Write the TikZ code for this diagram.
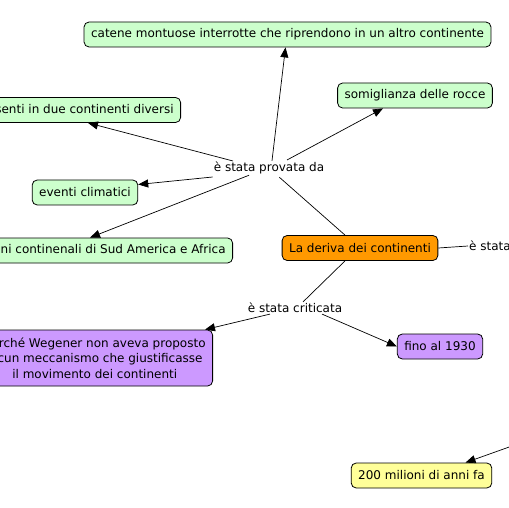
\documentclass[tikz,border=0pt]{standalone}
\usepackage{fontspec}
\setmainfont{DejaVu Sans}
\usetikzlibrary{arrows.meta}
\definecolor{cgreen}{RGB}{204,255,204}
\definecolor{corange}{RGB}{255,153,0}
\definecolor{cpurple}{RGB}{204,153,255}
\definecolor{cyellow}{RGB}{255,255,153}
\begin{document}
\begin{tikzpicture}[x=1pt,y=-1pt,
  every node/.style={font=\fontsize{12}{15.5}\selectfont, inner ysep=0pt},
  concept/.style={draw=black, line width=0.8pt, rounded corners=5pt, inner xsep=7pt, minimum height=25pt},
  greenbox/.style={concept, fill=cgreen},
  orangebox/.style={concept, fill=corange},
  purplebox/.style={concept, fill=cpurple},
  yellowbox/.style={concept, fill=cyellow},
  linkword/.style={inner sep=1pt},
  conn/.style={line width=0.7pt},
  arr/.style={conn, -{Triangle[length=10pt,width=8pt]}}
]
\useasboundingbox (0,0) rectangle (509,508);
\fill[white] (0,0) rectangle (509,508);

\node[greenbox] (catene) at (287.5,34.5) {catene montuose interrotte che riprendono in un altro continente};
\node[greenbox, anchor=east] (fossili) at (181,110) {\phantom{pre}senti in due continenti diversi};
\node[greenbox] (somig) at (415,95.5) {somiglianza delle rocce};
\node[linkword] (provata) at (269,168) {è stata provata da};
\node[greenbox] (eventi) at (85,192.5) {eventi climatici};
\node[greenbox, anchor=east] (margini) at (233,250.5) {\phantom{margi}ni continenali di Sud America e Africa};
\node[orangebox] (deriva) at (360,248) {La deriva dei continenti};
\node[linkword, anchor=west] (statar) at (468,246) {è stata};
\node[linkword] (criticata) at (295,308) {è stata criticata};
\node[purplebox, anchor=east, align=center, minimum height=56pt] (perche) at (213,358)
  {\phantom{pe}rché Wegener non aveva proposto\\\phantom{al}cun meccanismo che giustificasse\\il movimento dei continenti};
\node[purplebox] (fino) at (440,346.5) {fino al 1930};
\node[yellowbox] (milioni) at (421.5,475.5) {200 milioni di anni fa};
\coordinate (offr) at (540,436);

\draw[conn] ([xshift=-15pt]deriva.north) -- ([xshift=-46pt,yshift=-2pt]provata.south east);
\draw[arr] ([xshift=3pt]provata.north) -- ([xshift=-2pt]catene.south);
\draw[arr] ([xshift=18pt,yshift=8pt]provata.center) -- ([xshift=-32pt]somig.south);
\draw[arr] ([xshift=-36pt,yshift=7pt]provata.center) -- ([xshift=-93pt]fossili.south east);
\draw[arr] ([yshift=-9pt]provata.west) -- ([yshift=8pt]eventi.east);
\draw[arr] ([xshift=-20pt]provata.south) -- ([xshift=-143pt]margini.north east);
\draw[conn] ([xshift=-15pt]deriva.south) -- ([xshift=8pt]criticata.north);
\draw[arr] ([xshift=-25pt]criticata.south) -- ([xshift=-8pt]perche.north east);
\draw[arr] ([xshift=27pt]criticata.south) -- (fino.west);
\draw[conn] (deriva.east) -- (statar.west);
\draw[arr] (offr) -- ([xshift=44pt]milioni.north);
\end{tikzpicture}
\end{document}
